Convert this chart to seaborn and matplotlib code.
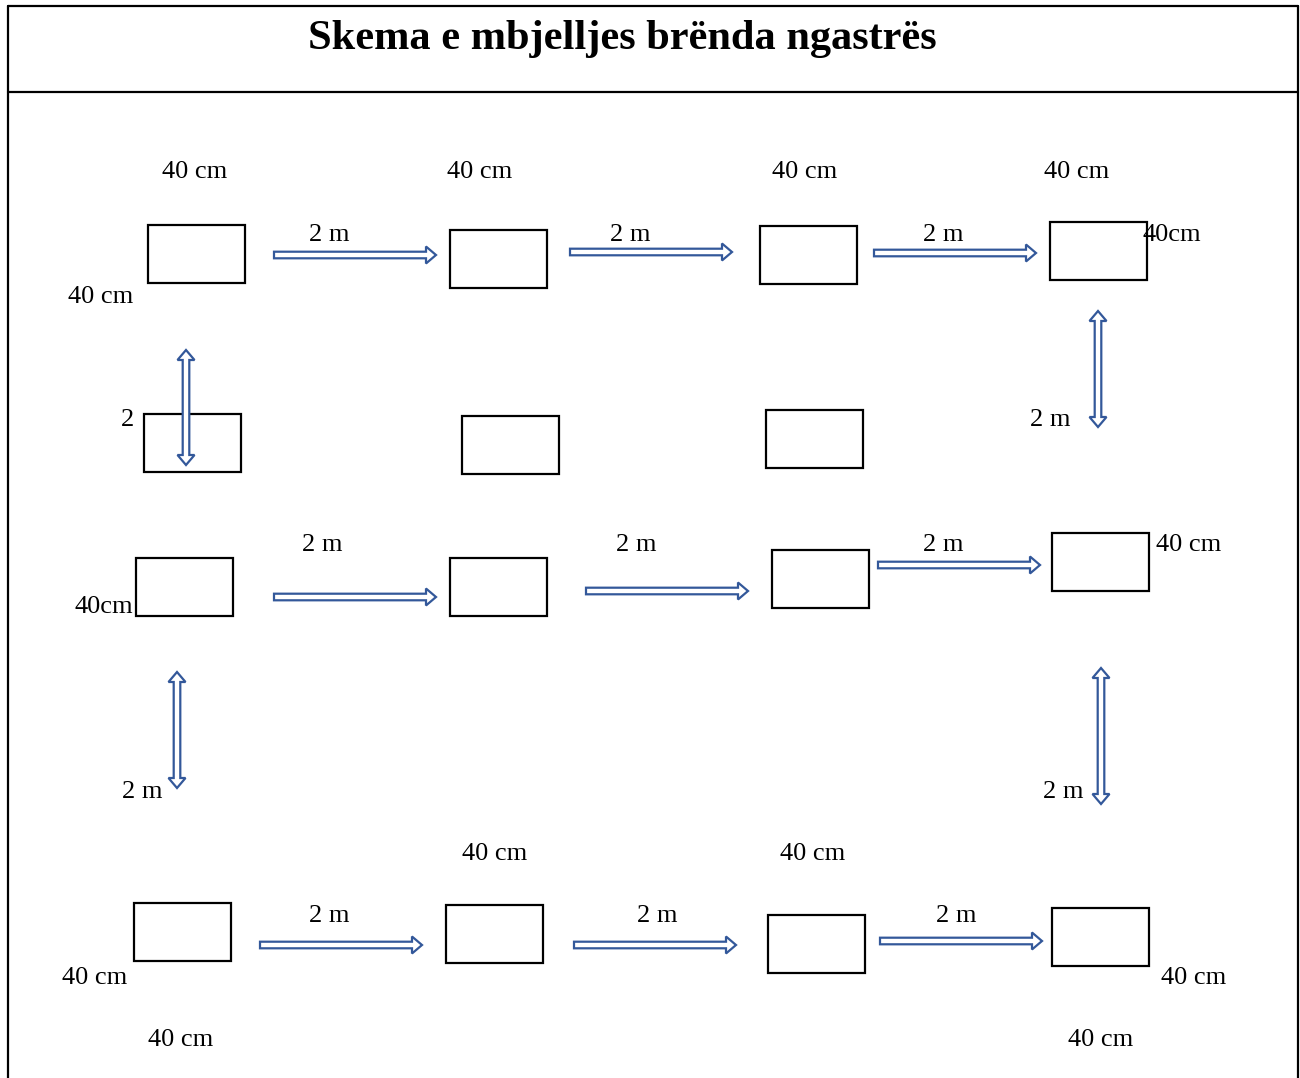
import matplotlib.pyplot as plt
import numpy as np
import seaborn as sns
from matplotlib.patches import Polygon, Rectangle

# planting boxes: left, top, right, bottom (pixel layout of the sheet)
box_left = [148, 450, 760, 1050, 144, 462, 766, 136, 450, 772, 1052, 134, 446, 768, 1052]
box_top = [225, 230, 226, 222, 414, 416, 410, 558, 558, 550, 533, 903, 905, 915, 908]
box_w = 97
box_h = 58

# horizontal arrows: x start, x end, y
harrow_x0 = [274, 570, 874, 274, 586, 878, 260, 574, 880]
harrow_x1 = [436, 732, 1036, 436, 748, 1040, 422, 736, 1042]
harrow_y = [255, 252, 253, 597, 591, 565, 945, 945, 941]

# vertical double arrows: x, y top, y bottom
varrow_x = [186, 1098, 177, 1101]
varrow_y0 = [350, 311, 672, 668]
varrow_y1 = [465, 427, 788, 804]

# labels
label_text = ["40 cm", "40 cm", "40 cm", "40 cm",
              "2 m", "2 m", "2 m", "40cm", "40 cm",
              "2", "2 m",
              "2 m", "2 m", "2 m", "40 cm", "40cm",
              "2 m", "2 m",
              "40 cm", "40 cm",
              "2 m", "2 m", "2 m",
              "40 cm", "40 cm", "40 cm", "40 cm"]
label_x = [195, 480, 805, 1077,
           329, 630, 943, 1172, 101,
           128, 1050,
           322, 636, 943, 1189, 104,
           142, 1063,
           495, 813,
           329, 657, 956,
           95, 1194, 181, 1101]
label_y = [170, 170, 170, 170,
           233, 233, 233, 233, 295,
           418, 418,
           543, 543, 543, 543, 605,
           790, 790,
           852, 852,
           914, 914, 914,
           976, 976, 1038, 1038]

title = "Skema e mbjelljes brënda ngastrës"

BLUE = "#33589a"
SHAFT = 3.3
HEAD_W = 8.5
HEAD_L = 10


def harrow_points(x0, x1, y):
    return [(x0, y - SHAFT), (x1 - HEAD_L, y - SHAFT), (x1 - HEAD_L, y - HEAD_W),
            (x1, y), (x1 - HEAD_L, y + HEAD_W), (x1 - HEAD_L, y + SHAFT),
            (x0, y + SHAFT)]


def varrow_points(x, y0, y1):
    return [(x, y0), (x + HEAD_W, y0 + HEAD_L), (x + SHAFT, y0 + HEAD_L),
            (x + SHAFT, y1 - HEAD_L), (x + HEAD_W, y1 - HEAD_L), (x, y1),
            (x - HEAD_W, y1 - HEAD_L), (x - SHAFT, y1 - HEAD_L),
            (x - SHAFT, y0 + HEAD_L), (x - HEAD_W, y0 + HEAD_L)]


def main():
    sns.set_theme(style="white")
    plt.rcParams["font.family"] = ["Liberation Serif", "DejaVu Serif"]

    fig = plt.figure(figsize=(13, 10.78), dpi=100)
    ax = fig.add_axes([0, 0, 1, 1])
    ax.set_xlim(0, 1300)
    ax.set_ylim(1078, 0)
    ax.axis("off")

    # page frame and header line
    ax.plot([8, 8], [6, 1078], color="black", lw=1.6)
    ax.plot([1298, 1298], [6, 1078], color="black", lw=1.6)
    ax.plot([8, 1298], [6, 6], color="black", lw=1.6)
    ax.plot([8, 1298], [92, 92], color="black", lw=1.6)

    ax.text(622, 39, title, ha="center", va="center", fontsize=30.5,
            fontweight="bold", color="black")

    for x, y in zip(box_left, box_top):
        ax.add_patch(Rectangle((x, y), box_w, box_h, fill=False,
                               edgecolor="black", lw=1.6))

    for x0, x1, y in zip(harrow_x0, harrow_x1, harrow_y):
        ax.add_patch(Polygon(harrow_points(x0, x1, y), closed=True,
                             facecolor="white", edgecolor=BLUE, lw=1.6))

    for x, y0, y1 in zip(varrow_x, varrow_y0, varrow_y1):
        ax.add_patch(Polygon(varrow_points(x, y0, y1), closed=True,
                             facecolor="white", edgecolor=BLUE, lw=1.6,
                             zorder=3))

    for t, x, y in zip(label_text, label_x, label_y):
        ax.text(x, y + 2, t, ha="center", va="center", fontsize=19,
                color="black")

    fig.savefig("out.png", dpi=100)


if __name__ == "__main__":
    main()
